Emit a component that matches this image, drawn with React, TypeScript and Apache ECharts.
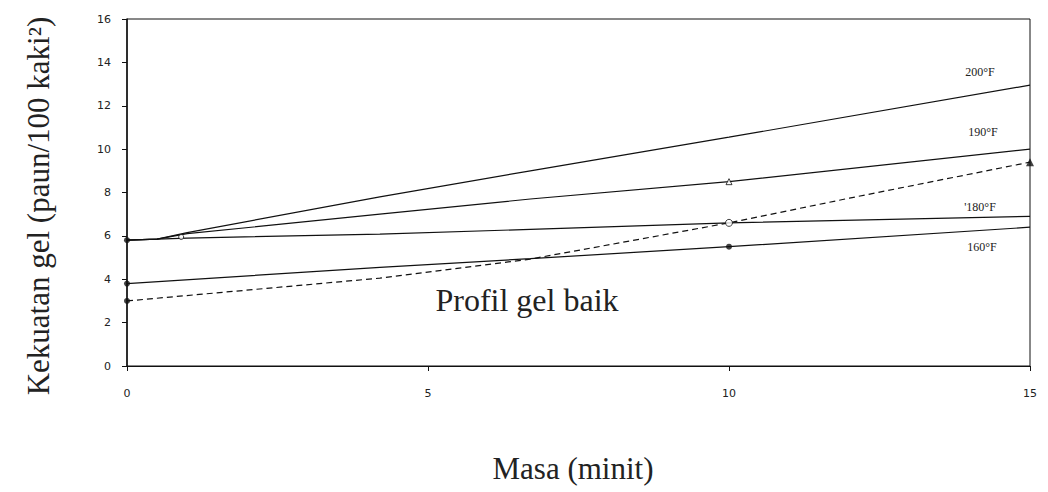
import React, { useEffect, useRef } from "react";
import * as echarts from "echarts";

// Series (x = minutes, y = gel strength)
const x200 = [0, 0.5, 1, 4.2, 6.7, 10, 15];
const y200 = [5.8, 5.85, 6.15, 7.8, 9.0, 10.55, 12.95];
const x190 = [0, 0.5, 1, 4.2, 6.7, 10, 15];
const y190 = [5.8, 5.85, 6.1, 7.0, 7.7, 8.5, 10.0];
const x180 = [0, 1, 4.2, 6.7, 10, 15];
const y180 = [5.8, 5.9, 6.08, 6.3, 6.6, 6.9];
const x160 = [0, 4.2, 6.7, 10, 15];
const y160 = [3.8, 4.55, 4.95, 5.5, 6.4];
const xGood = [0, 1.2, 4.2, 6.7, 8.7, 10, 12, 15];
const yGood = [3.0, 3.3, 4.05, 4.93, 5.94, 6.6, 7.74, 9.4];

// Marker points
const filledDots = [[0, 5.8], [0, 3.8], [0, 3.0], [10, 5.5]];
const openCircles = [[10, 6.6]];
const smallOpenCircles = [[0.9, 5.95]];
const openTriangles = [[10, 8.5]];
const filledTriangles = [[15, 9.4]];

const seriesLabels = ["200°F", "190°F", "'180°F", "160°F"];
const xTicks = [0, 5, 10, 15];

const zip = (xs: number[], ys: number[]) => xs.map((x, i) => [x, ys[i]]);

export default function App() {
  const ref = useRef<HTMLDivElement>(null);
  useEffect(() => {
    if (!ref.current) return;
    const chart = echarts.init(ref.current, null, { renderer: "svg" });
    const serif = "Liberation Serif";
    const lineStyle = { color: "#111", width: 1.2 };
    const mkLine = (name: string, data: number[][], dashed = false) => ({
      name,
      type: "line",
      data,
      symbol: "none",
      smooth: false,
      lineStyle: { ...lineStyle, type: dashed ? [6, 4] : "solid" },
      z: 3,
    });
    const small = (text: string, x: number, y: number) => ({
      type: "text",
      x,
      y,
      style: { text, fontFamily: serif, fontSize: 12, fill: "#222", align: "center", verticalAlign: "middle" },
    });
    chart.setOption({
      animation: false,
      backgroundColor: "#fff",
      grid: {
        left: 127,
        right: 18,
        top: 19,
        bottom: 126,
        show: true,
        borderColor: "#111",
        borderWidth: 1,
      },
      xAxis: {
        type: "value",
        min: 0,
        max: 15,
        interval: 5,
        axisLine: { lineStyle: { color: "#111", width: 1.2 } },
        axisTick: { show: true, length: 5, lineStyle: { color: "#111" } },
        splitLine: { show: false },
        axisLabel: {
          color: "#222",
          fontFamily: "DejaVu Sans",
          fontSize: 11,
          margin: 22,
          customValues: xTicks,
        },
      },
      yAxis: {
        type: "value",
        min: 0,
        max: 16,
        interval: 2,
        axisLine: { show: true, lineStyle: { color: "#111", width: 1.5 } },
        axisTick: { show: true, length: 5, lineStyle: { color: "#111" } },
        splitLine: { show: false },
        axisLabel: {
          color: "#222",
          fontFamily: "DejaVu Sans",
          fontSize: 11,
          margin: 16,
        },
      },
      series: [
        mkLine("200°F", zip(x200, y200)),
        mkLine("190°F", zip(x190, y190)),
        mkLine("180°F", zip(x180, y180)),
        mkLine("160°F", zip(x160, y160)),
        mkLine("Profil gel baik", zip(xGood, yGood), true),
        {
          type: "scatter",
          data: filledDots,
          symbol: "circle",
          symbolSize: 6,
          itemStyle: { color: "#111" },
          z: 5,
        },
        {
          type: "scatter",
          data: openCircles,
          symbol: "circle",
          symbolSize: 7,
          itemStyle: { color: "#fff", borderColor: "#111", borderWidth: 1 },
          z: 5,
        },
        {
          type: "scatter",
          data: smallOpenCircles,
          symbol: "circle",
          symbolSize: 5,
          itemStyle: { color: "#fff", borderColor: "#111", borderWidth: 1 },
          z: 5,
        },
        {
          type: "scatter",
          data: openTriangles,
          symbol: "triangle",
          symbolSize: 6,
          itemStyle: { color: "#fff", borderColor: "#111", borderWidth: 1 },
          z: 5,
        },
        {
          type: "scatter",
          data: filledTriangles,
          symbol: "triangle",
          symbolSize: 8,
          itemStyle: { color: "#111" },
          z: 5,
        },
      ],
      graphic: [
        {
          type: "text",
          x: 38,
          y: 206,
          rotation: Math.PI / 2,
          style: {
            text: "Kekuatan gel (paun/100 kaki²)",
            fontFamily: serif,
            fontSize: 31,
            fill: "#222",
            align: "center",
            verticalAlign: "middle",
          },
        },
        {
          type: "text",
          x: 573,
          y: 468,
          style: {
            text: "Masa (minit)",
            fontFamily: serif,
            fontSize: 31,
            fill: "#222",
            align: "center",
            verticalAlign: "middle",
          },
        },
        {
          type: "text",
          x: 527,
          y: 300,
          style: {
            text: "Profil gel baik",
            fontFamily: serif,
            fontSize: 32,
            fill: "#222",
            align: "center",
            verticalAlign: "middle",
          },
        },
        small(seriesLabels[0], 980, 72),
        small(seriesLabels[1], 983, 132),
        small(seriesLabels[2], 980, 207),
        small(seriesLabels[3], 982, 247),
      ],
    });
    return () => chart.dispose();
  }, []);
  return (
    <div
      ref={ref}
      style={{ position: "fixed", left: 0, top: 0, width: 1048, height: 492 }}
    />
  );
}
